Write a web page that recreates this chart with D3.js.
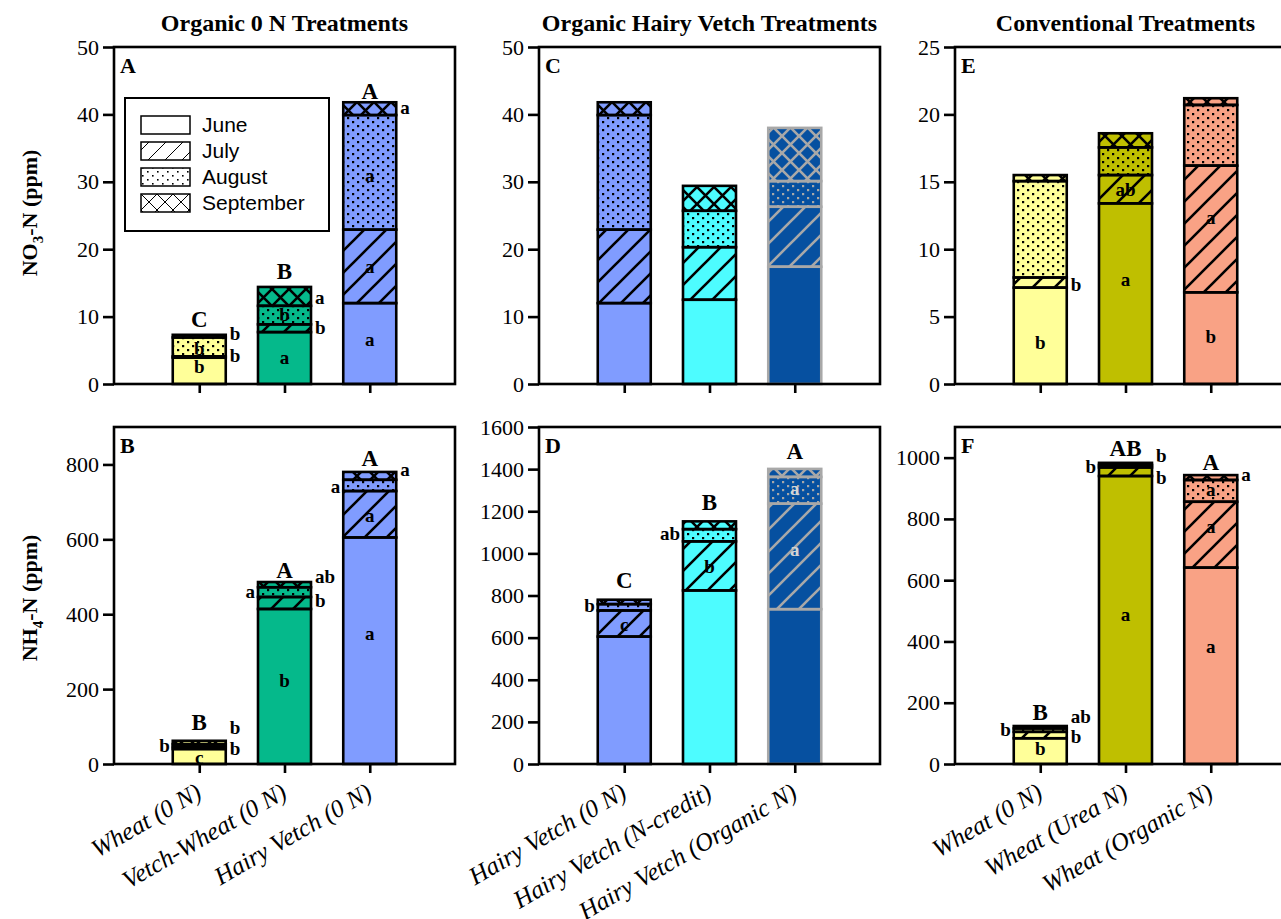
<!DOCTYPE html>
<html>
<head>
<meta charset="utf-8">
<script src="https://cdn.jsdelivr.net/npm/d3@7"></script>
<style>
    body { margin: 0; background: #fff; }
    text { font-family: "Liberation Serif", "Times New Roman", serif; fill: #000; }
    .tick text { font-size: 22px; font-family: "Liberation Serif", "Times New Roman", serif; }
    .lab { font-weight: bold; }
    .legtxt { font-family: "Liberation Sans", Arial, sans-serif; font-size: 21px; }
</style>
</head>
<body>
<script>

    var months = ["June", "July", "August", "September"];

    var organicCats = ["Wheat (0 N)", "Vetch-Wheat (0 N)", "Hairy Vetch (0 N)"];
    var vetchCats = ["Hairy Vetch (0 N)", "Hairy Vetch (N-credit)", "Hairy Vetch (Organic N)"];
    var convCats = ["Wheat (0 N)", "Wheat (Urea N)", "Wheat (Organic N)"];

    var organicColors = ["#ffff99", "#05b98b", "#809cff"];
    var vetchColors = ["#809cff", "#4dfcff", "#0650a0"];
    var convColors = ["#ffff99", "#bfbf00", "#f9a285"];

    // monthly amounts, June / July / August / September
    var no3Organic = [[3.9, 0.2, 2.8, 0.4], [7.7, 1.15, 2.75, 2.8], [12.0, 10.9, 17.0, 1.9]];
    var no3Vetch = [[12.0, 10.9, 17.0, 1.9], [12.5, 7.8, 5.4, 3.7], [17.4, 8.9, 3.8, 7.9]];
    var no3Conv = [[7.15, 0.75, 7.15, 0.45], [13.4, 2.1, 2.05, 1.05], [6.8, 9.4, 4.5, 0.5]];

    var nh4Organic = [[40, 6, 7, 9], [414, 32, 26, 14], [605, 124, 30, 21]];
    var nh4Vetch = [[605, 124, 30, 21], [824, 233, 58, 37], [735, 501, 127, 38]];
    var nh4Conv = [[84, 21, 11, 8], [940, 28, 8, 7], [641, 215, 71, 16]];

    var ticksNo3 = [0, 10, 20, 30, 40, 50];
    var ticksNo3Conv = [0, 5, 10, 15, 20, 25];
    var ticksNh4Organic = [0, 200, 400, 600, 800];
    var ticksNh4Vetch = [0, 200, 400, 600, 800, 1000, 1200, 1400, 1600];
    var ticksNh4Conv = [0, 200, 400, 600, 800, 1000];

    // significance letters: [bar, text, where, value]
    var lettersA = [[0, "C", "top", 9.6], [0, "b", "right", 7.5], [0, "b", "right", 4.25], [0, "b", "in", 5.35], [0, "b", "in", 2.55],
        [1, "B", "top", 16.8], [1, "a", "right", 12.9], [1, "b", "right", 8.4], [1, "b", "in", 10.3], [1, "a", "in", 3.95],
        [2, "A", "top", 43.5], [2, "a", "right", 41.1], [2, "a", "in", 31.0], [2, "a", "in", 17.5], [2, "a", "in", 6.6]];
    var lettersB = [[0, "B", "top", 113], [0, "b", "right", 98], [0, "b", "left", 51], [0, "b", "right", 43], [0, "c", "in", 19],
        [1, "A", "top", 519], [1, "ab", "right", 501], [1, "b", "right", 437], [1, "a", "left", 461], [1, "b", "in", 223],
        [2, "A", "top", 818], [2, "a", "right", 786], [2, "a", "left", 741], [2, "a", "in", 663], [2, "a", "in", 348]];
    var lettersC = [];
    var lettersD = [[0, "C", "top", 875], [0, "b", "left", 751], [0, "c", "in", 661],
        [1, "B", "top", 1242], [1, "ab", "left", 1093], [1, "b", "in", 938],
        [2, "A", "top", 1484], [2, "a", "in", 1307], [2, "a", "in", 1017]];
    var lettersE = [[0, "b", "in", 3.07], [0, "b", "right", 7.4], [1, "a", "in", 7.78], [1, "ab", "in", 14.47],
        [2, "b", "in", 3.56], [2, "a", "in", 12.36]];
    var lettersF = [[0, "B", "top", 171], [0, "ab", "right", 156], [0, "b", "right", 91], [0, "b", "left", 114], [0, "b", "in", 51],
        [1, "AB", "top", 1030], [1, "b", "right", 1008], [1, "b", "left", 973], [1, "b", "right", 936], [1, "a", "in", 490],
        [2, "A", "top", 987], [2, "a", "right", 946], [2, "a", "in", 897], [2, "a", "in", 777], [2, "a", "in", 383]];

    var titles = ["Organic 0 N Treatments", "Organic Hairy Vetch Treatments", "Conventional Treatments"];

    var panels = [
        {id: "A", row: 0, col: 0, cats: organicCats, vals: no3Organic, colors: organicColors, yMax: 50, ticks: ticksNo3, letters: lettersA, gray: -1},
        {id: "B", row: 1, col: 0, cats: organicCats, vals: nh4Organic, colors: organicColors, yMax: 900, ticks: ticksNh4Organic, letters: lettersB, gray: -1},
        {id: "C", row: 0, col: 1, cats: vetchCats, vals: no3Vetch, colors: vetchColors, yMax: 50, ticks: ticksNo3, letters: lettersC, gray: 2},
        {id: "D", row: 1, col: 1, cats: vetchCats, vals: nh4Vetch, colors: vetchColors, yMax: 1600, ticks: ticksNh4Vetch, letters: lettersD, gray: 2},
        {id: "E", row: 0, col: 2, cats: convCats, vals: no3Conv, colors: convColors, yMax: 25, ticks: ticksNo3Conv, letters: lettersE, gray: -1},
        {id: "F", row: 1, col: 2, cats: convCats, vals: nh4Conv, colors: convColors, yMax: 1100, ticks: ticksNh4Conv, letters: lettersF, gray: -1}
    ];

    var colLeft = [114, 539, 955];
    var panelW = 341;
    var rowTop = [47, 427];
    var rowBottom = [384, 764];
    var barW = 53;
    var grayLine = "#a8a8a8";
    var serif = "'Liberation Serif', 'Times New Roman', serif";

    var svg = d3.select("body").append("svg")
        .attr("width", 1281)
        .attr("height", 919);

    var defs = svg.append("defs");

    function makePatterns(name, color, sw, js, ss, dot) {
        defs.append("pattern").attr("id", "jul-" + name)
            .attr("patternUnits", "userSpaceOnUse").attr("width", js).attr("height", js)
            .append("path")
            .attr("d", "M" + (-js / 4) + "," + (js / 4) + " l" + (js / 2) + "," + (-js / 2) +
                " M0," + js + " l" + js + "," + (-js) +
                " M" + (3 * js / 4) + "," + (5 * js / 4) + " l" + (js / 2) + "," + (-js / 2))
            .attr("stroke", color).attr("stroke-width", sw);

        var a = defs.append("pattern").attr("id", "aug-" + name)
            .attr("patternUnits", "userSpaceOnUse").attr("width", 10).attr("height", 8);
        a.append("rect").attr("x", 2).attr("y", 1).attr("width", dot).attr("height", dot).attr("fill", color);
        a.append("rect").attr("x", 7).attr("y", 5).attr("width", dot).attr("height", dot).attr("fill", color);

        defs.append("pattern").attr("id", "sep-" + name)
            .attr("patternUnits", "userSpaceOnUse").attr("width", ss).attr("height", ss)
            .append("path")
            .attr("d", "M0,0 L" + ss + "," + ss + " M" + ss + ",0 L0," + ss)
            .attr("stroke", color).attr("stroke-width", sw);
    }

    makePatterns("k", "#000", 2.6, 22, 17, 2.2);
    makePatterns("g", grayLine, 2.6, 22, 17, 2.2);
    makePatterns("l", "#000", 1, 17, 16, 1.6);

    var patName = [null, "jul", "aug", "sep"];

    titles.forEach(function (t, i) {
        svg.append("text")
            .attr("x", colLeft[i] + panelW / 2)
            .attr("y", 31)
            .attr("text-anchor", "middle")
            .attr("class", "lab")
            .style("font-size", "24px")
            .text(t);
    });

    // y axis titles
    function yTitle(cy, base, sub) {
        var t = svg.append("text")
            .attr("transform", "translate(37," + cy + ") rotate(-90)")
            .attr("text-anchor", "middle")
            .attr("class", "lab")
            .style("font-size", "22px");
        t.append("tspan").text(base);
        t.append("tspan").attr("dy", 6).style("font-size", "15px").text(sub);
        t.append("tspan").attr("dy", -6).text("-N (ppm)");
    }
    yTitle(213, "NO", "3");
    yTitle(598, "NH", "4");

    panels.forEach(function (p) {
        var left = colLeft[p.col], right = left + panelW;
        var top = rowTop[p.row], bottom = rowBottom[p.row];
        var g = svg.append("g");

        var x = d3.scalePoint().domain(p.cats).range([left, right]).padding(1);
        var y = d3.scaleLinear().domain([0, p.yMax]).range([bottom, top]);

        var rows = p.cats.map(function (c, i) {
            var r = {cat: c};
            months.forEach(function (m, j) { r[m] = p.vals[i][j]; });
            return r;
        });
        var series = d3.stack().keys(months)(rows);

        series.forEach(function (s, mi) {
            s.forEach(function (d, ci) {
                var bx = x(p.cats[ci]) - barW / 2;
                g.append("rect")
                    .attr("x", bx).attr("y", y(d[1]))
                    .attr("width", barW).attr("height", y(d[0]) - y(d[1]))
                    .attr("fill", p.colors[ci]);
                if (mi > 0) {
                    g.append("rect")
                        .attr("x", bx).attr("y", y(d[1]))
                        .attr("width", barW).attr("height", y(d[0]) - y(d[1]))
                        .attr("fill", "url(#" + patName[mi] + "-" + (ci === p.gray ? "g" : "k") + ")");
                }
            });
        });
        series.forEach(function (s) {
            s.forEach(function (d, ci) {
                g.append("rect")
                    .attr("x", x(p.cats[ci]) - barW / 2).attr("y", y(d[1]))
                    .attr("width", barW).attr("height", y(d[0]) - y(d[1]))
                    .attr("fill", "none")
                    .attr("stroke", ci === p.gray ? grayLine : "#000")
                    .attr("stroke-width", 2.6);
            });
        });

        // axes
        var ya = g.append("g").attr("transform", "translate(" + left + ",0)")
            .call(d3.axisLeft(y).tickValues(p.ticks).tickFormat(d3.format("d")).tickSize(11).tickPadding(4));
        ya.attr("font-family", serif).attr("font-size", 22);
        ya.select(".domain").remove();
        ya.selectAll(".tick line").attr("stroke-width", 2.6);

        var xa = g.append("g").attr("transform", "translate(0," + bottom + ")")
            .call(d3.axisBottom(x).tickSize(9).tickFormat(""));
        xa.select(".domain").remove();
        xa.selectAll(".tick line").attr("stroke-width", 2.6);

        g.append("rect")
            .attr("x", left).attr("y", top)
            .attr("width", panelW).attr("height", bottom - top)
            .attr("fill", "none").attr("stroke", "#000").attr("stroke-width", 2.6);

        g.append("text")
            .attr("x", left + 6).attr("y", top + 26)
            .attr("class", "lab").style("font-size", "22px")
            .text(p.id);

        // letters
        p.letters.forEach(function (l) {
            var cx = x(p.cats[l[0]]);
            var t = g.append("text")
                .attr("y", y(l[3]))
                .attr("dy", "0.35em")
                .attr("class", "lab")
                .style("font-size", l[2] === "top" ? "23px" : "19px")
                .text(l[1]);
            if (l[2] === "right") {
                t.attr("x", cx + barW / 2 + 4).attr("text-anchor", "start");
            } else if (l[2] === "left") {
                t.attr("x", cx - barW / 2 - 3).attr("text-anchor", "end");
            } else {
                t.attr("x", cx).attr("text-anchor", "middle");
                if (l[2] === "in" && l[0] === p.gray) t.style("fill", "#d4d4d4");
            }
        });

        // category labels under the lower row
        if (p.row === 1) {
            p.cats.forEach(function (c) {
                g.append("text")
                    .attr("transform", "translate(" + (x(c) + 4) + "," + (bottom + 33) + ") rotate(-30)")
                    .attr("text-anchor", "end")
                    .style("font-style", "italic")
                    .style("font-size", "25px")
                    .text(c);
            });
        }

        // legend in panel A
        if (p.id === "A") {
            var lg = g.append("g").attr("transform", "translate(" + (left + 11) + "," + (top + 51) + ")");
            lg.append("rect").attr("width", 204).attr("height", 133)
                .attr("fill", "#fff").attr("stroke", "#000").attr("stroke-width", 2);
            months.forEach(function (m, i) {
                var ry = 18 + i * 26;
                lg.append("rect").attr("x", 16).attr("y", ry).attr("width", 49).attr("height", 18).attr("fill", "#fff");
                if (i > 0) {
                    lg.append("rect").attr("x", 16).attr("y", ry).attr("width", 49).attr("height", 18)
                        .attr("fill", "url(#" + patName[i] + "-l)");
                }
                lg.append("rect").attr("x", 16).attr("y", ry).attr("width", 49).attr("height", 18)
                    .attr("fill", "none").attr("stroke", "#000").attr("stroke-width", 1.5);
                lg.append("text").attr("class", "legtxt")
                    .attr("x", 77).attr("y", ry + 9).attr("dy", "0.35em")
                    .text(m);
            });
        }
    });

</script>
</body>
</html>
